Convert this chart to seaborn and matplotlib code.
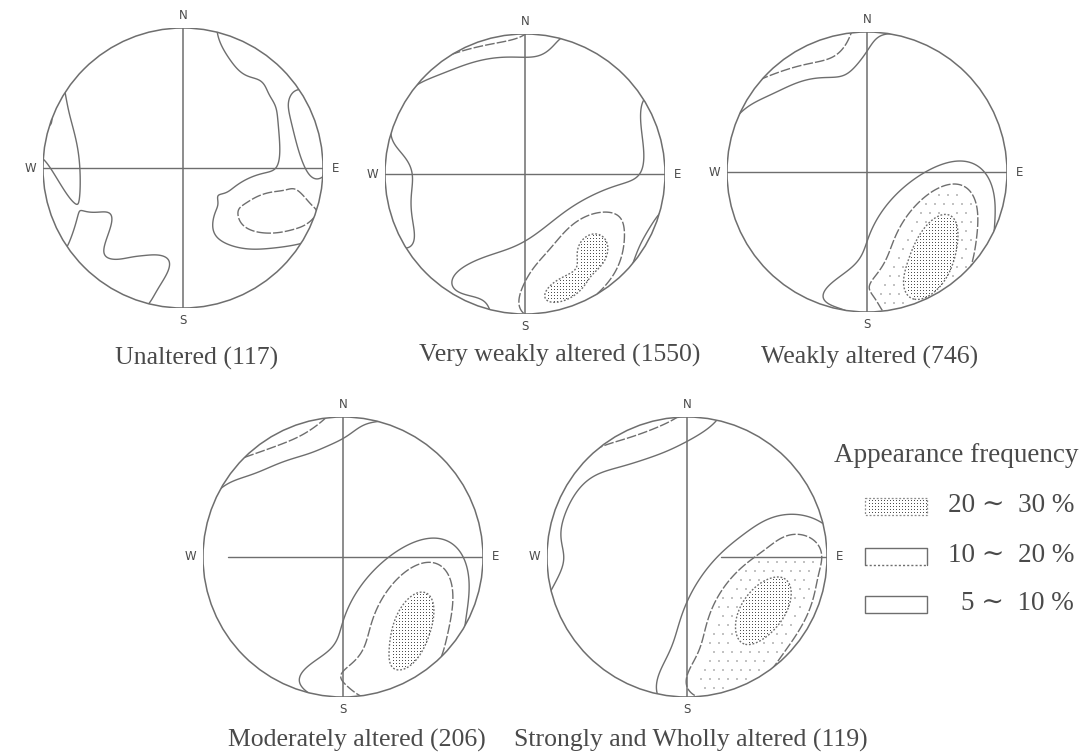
import numpy as np
import matplotlib
matplotlib.use("Agg")
import matplotlib.pyplot as plt
from matplotlib.patches import Circle, Rectangle
import seaborn as sns

# ---------------------------------------------------------------------------
# Pole concentrations on the lower-hemisphere equal-area net for each grade.
# Each row: centre east, centre north (net radius = 1), spread along the long
# axis, spread across it, bearing of the long axis (deg from east), peak (%).
# ---------------------------------------------------------------------------
captions = [
    "Unaltered (117)",
    "Very weakly altered (1550)",
    "Weakly altered (746)",
    "Moderately altered (206)",
    "Strongly and Wholly altered (119)",
]

unaltered = [
    (0.64, -0.31, 0.15, 0.084, 15, 8.8),
    (0.60, -0.30, 0.35, 0.25, 20, 8.5),
    (-0.84, 0.05, 0.42, 0.09, 105, 6.0),
    (-0.63, -0.46, 0.22, 0.08, 50, 6.0),
    (-0.33, -0.76, 0.30, 0.16, 25, 5.8),
    (0.50, 0.80, 0.30, 0.12, 150, 4.8),
    (0.73, 0.30, 0.30, 0.06, 100, 6.0),
]
very_weak = [
    (0.50, -0.55, 0.12, 0.11, 80, 14.0),
    (0.28, -0.83, 0.16, 0.08, 25, 13.0),
    (0.40, -0.52, 0.50, 0.20, 38, 12.0),
    (0.30, -0.92, 0.35, 0.15, 20, 6.0),
    (0.96, 0.30, 0.32, 0.13, 108, 7.0),
    (-0.35, -0.72, 0.25, 0.12, 25, 5.5),
]
weak = [
    (0.48, -0.58, 0.30, 0.14, 66, 18.0),
    (0.42, -0.46, 0.45, 0.30, 50, 10.0),
    (0.40, -0.88, 0.35, 0.15, 28, 6.0),
    (-0.15, -0.85, 0.25, 0.10, 15, 4.5),
]
moderate = [
    (0.51, -0.48, 0.27, 0.14, 68, 18.0),
    (0.40, -0.43, 0.50, 0.32, 55, 9.0),
    (0.35, -0.88, 0.35, 0.15, 22, 6.5),
    (-0.15, -0.85, 0.22, 0.10, 10, 4.0),
]
strong = [
    (0.57, -0.36, 0.28, 0.16, 53, 16.0),
    (0.45, -0.42, 0.55, 0.35, 58, 11.0),
    (0.20, -0.90, 0.30, 0.15, 10, 6.0),
    (0.85, 0.08, 0.18, 0.12, 160, 4.0),
]
grades = [unaltered, very_weak, weak, moderate, strong]

contour_levels = [5, 10, 20]
legend_title = "Appearance frequency"
legend_labels = ["20 \u223c  30 %", "10 \u223c  20 %", "5 \u223c  10 %"]

# ---------------------------------------------------------------------------
# Layout (pixels on a 1090 x 755 canvas)
# ---------------------------------------------------------------------------
W_PX, H_PX = 1090, 755
RADIUS = 140
centres = [(183, 168), (525, 174), (867, 172), (343, 557), (687, 557)]
caption_xy = [(197, 358), (560, 355), (870, 357), (357, 740), (691, 740)]
ew_start = [-1.0, -1.0, -1.0, -0.82, 0.24]
faint_band = [False, False, True, False, True]

LINE = "#6e6e6e"
TEXT = "#4a4a4a"
STIPPLE = "#4d4d4d"
DOT_PX = 3  # stipple pitch in pixels

sns.set_theme(style="white")
plt.rcParams["font.family"] = ["Liberation Serif", "DejaVu Serif"]


def density(comps, X, Y):
    """Sum of elongated concentrations; the part of a cluster that falls
    past the primitive circle re-enters on the opposite side (axial data)."""
    r = np.hypot(X, Y)
    r_safe = np.where(r == 0, 1e-9, r)
    scale = np.sqrt(np.clip(2.0 - r ** 2, 0, None)) / r_safe
    Xa, Ya = -X * scale, -Y * scale
    Z = np.zeros_like(X, dtype=float)
    for x0, y0, sl, ss, ang, amp in comps:
        t = np.deg2rad(ang)
        for PX, PY in ((X, Y), (Xa, Ya)):
            dx, dy = PX - x0, PY - y0
            u = dx * np.cos(t) + dy * np.sin(t)
            v = -dx * np.sin(t) + dy * np.cos(t)
            Z += amp * np.exp(-0.5 * ((u / sl) ** 2 + (v / ss) ** 2))
    return Z


fig = plt.figure(figsize=(W_PX / 100, H_PX / 100), dpi=100)
fig.patch.set_facecolor("white")

grid = np.linspace(-1.03, 1.03, 421)
GX, GY = np.meshgrid(grid, grid)
# stipple lattice sitting on pixel centres of the net axes
dots = -1 + (np.arange(0, 2 * RADIUS, DOT_PX) + 0.5) / RADIUS
DX, DY = np.meshgrid(dots, dots)
coarse = -1 + (np.arange(0, 2 * RADIUS, 3 * DOT_PX) + 0.5) / RADIUS
CX, CY = np.meshgrid(coarse, coarse)
CX = CX + (1.5 * DOT_PX / RADIUS) * (np.arange(coarse.size)[:, None] % 2)

for comps, (cx, cy), x0_ew, faint in zip(grades, centres, ew_start, faint_band):
    ax = fig.add_axes([(cx - RADIUS) / W_PX, 1 - (cy + RADIUS) / H_PX,
                       2 * RADIUS / W_PX, 2 * RADIUS / H_PX])
    ax.set_xlim(-1, 1)
    ax.set_ylim(-1, 1)
    ax.axis("off")

    Z = density(comps, GX, GY)
    clip = Circle((0, 0), 1.0, transform=ax.transData)

    # stippled 20-30 % cells, one pixel per dot
    ZD = density(comps, DX, DY)
    inside = np.hypot(DX, DY) < 0.985
    hi = inside & (ZD >= contour_levels[2] + 0.4)
    ax.plot(DX[hi], DY[hi], ls="none", marker=",", color=STIPPLE)
    if faint:
        ZC = density(comps, CX, CY)
        mid = ((np.hypot(CX, CY) < 0.985) & (CY < 0) & (ZC >= contour_levels[1] + 1.5)
               & (ZC < contour_levels[2] - 1))
        ax.scatter(CX[mid], CY[mid], s=0.7, marker="s", color="#c2c2c2", linewidths=0)

    sets = []
    if Z[np.hypot(GX, GY) <= 1].max() > contour_levels[2]:
        sets.append(ax.contour(GX, GY, Z, levels=[contour_levels[2]], colors=LINE,
                               linewidths=1.0, linestyles=[(0, (1.3, 1.3))]))
    sets.append(ax.contour(GX, GY, Z, levels=[contour_levels[1]], colors=LINE,
                           linewidths=1.0, linestyles=[(0, (7, 1.5))]))
    sets.append(ax.contour(GX, GY, Z, levels=[contour_levels[0]], colors=LINE,
                           linewidths=1.0))
    for cs in sets:
        cs.set_clip_path(clip)

    # primitive circle and N-S / E-W axes
    ax.add_patch(Circle((0, 0), 1.0, fill=False, ec=LINE, lw=1.1))
    ax.plot([0, 0], [-1, 1], color=LINE, lw=1.1)
    ax.plot([x0_ew, 1], [0, 0], color=LINE, lw=1.0)
    for lab, (tx, ty) in zip("NSWE", [(0, 1.09), (0, -1.09), (-1.09, 0), (1.09, 0)]):
        ax.text(tx, ty, lab, ha="center", va="center", fontsize=8.5, color=TEXT,
                family="DejaVu Sans", clip_on=False)

# captions and legend on a pixel-space overlay
ov = fig.add_axes([0, 0, 1, 1], zorder=-1)
ov.set_xlim(0, W_PX)
ov.set_ylim(H_PX, 0)
ov.axis("off")
for text, (tx, ty) in zip(captions, caption_xy):
    ov.text(tx, ty, text, ha="center", va="center", fontsize=18.5, color=TEXT)

ov.text(956, 456, legend_title, ha="center", va="center", fontsize=19.5, color=TEXT)
rows_y = [506, 556, 604]
bx, bw, bh = 865, 62, 17
for i, (lab, ry) in enumerate(zip(legend_labels, rows_y)):
    top, bot = ry - bh / 2, ry + bh / 2
    if i == 0:
        ov.add_patch(Rectangle((bx, top), bw, bh, fill=False, ec="#8a8a8a",
                               lw=0.9, ls=(0, (1.5, 1.5))))
        gx, gy = np.meshgrid(np.arange(bx + 3.5, bx + bw - 1, DOT_PX),
                             np.arange(int(top) + 3.5, bot - 1, DOT_PX))
        ov.plot(gx.ravel(), gy.ravel(), ls="none", marker=",", color=STIPPLE)
    elif i == 1:
        ov.plot([bx, bx, bx + bw, bx + bw], [bot, top, top, bot], color=LINE, lw=1.0)
        ov.plot([bx, bx + bw], [bot, bot], color=LINE, lw=1.0, ls=(0, (1.5, 1.5)))
    else:
        ov.add_patch(Rectangle((bx, top), bw, bh, fill=False, ec=LINE, lw=1.0))
    ov.text(1074, ry, lab, ha="right", va="center", fontsize=19.5, color=TEXT)

fig.savefig("out.png", dpi=100, facecolor="white")
